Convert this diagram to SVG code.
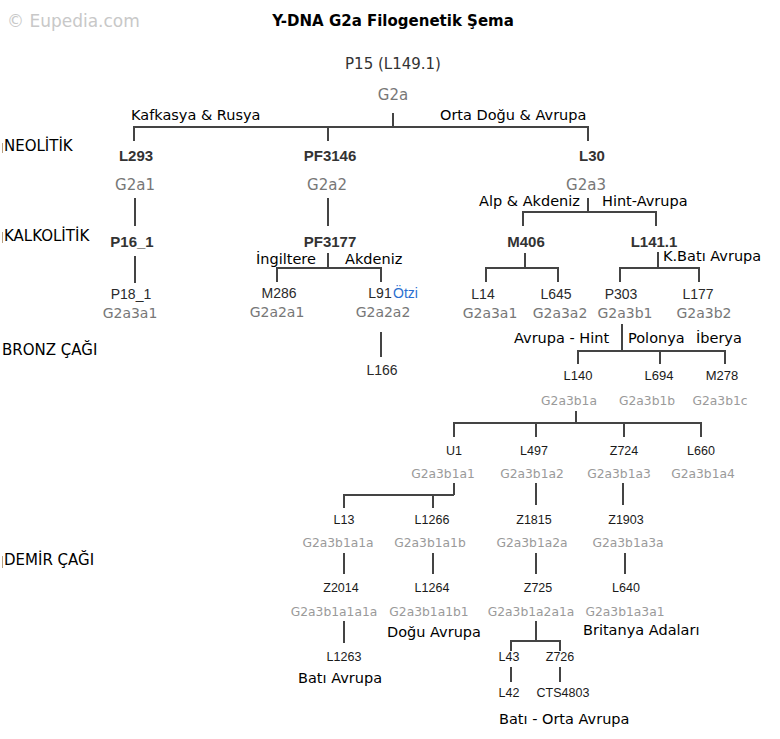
<svg xmlns="http://www.w3.org/2000/svg" width="780" height="739" viewBox="0 0 780 739">
<style>
text{font-family:"DejaVu Sans","Liberation Sans",sans-serif}
.wm{font-size:17px;fill:#c8c8c8}
.title{font-size:15px;font-weight:bold;fill:#000;text-anchor:middle}
.era{font-size:15px;fill:#000}
.reg{font-size:14.5px;fill:#000}
.root{font-size:15px;fill:#333;text-anchor:middle}
.b{font-family:"Liberation Sans",Arial,sans-serif;font-size:15px;font-weight:bold;fill:#333;text-anchor:middle}
.n{font-family:"Liberation Sans",Arial,sans-serif;font-size:14px;fill:#2a2a2a;text-anchor:middle}
.m{font-family:"Liberation Sans",Arial,sans-serif;font-size:13px;fill:#1a1a1a;text-anchor:middle}
.s{font-family:"Liberation Sans",Arial,sans-serif;font-size:12.5px;fill:#1a1a1a;text-anchor:middle}
.g15{font-size:15px;fill:#777;text-anchor:middle}
.g14{font-size:14px;fill:#777;text-anchor:middle}
.g12{font-size:12.3px;fill:#9a9a9a;text-anchor:middle}
.otz{font-family:"Liberation Sans",Arial,sans-serif;font-size:14px;fill:#2a6fd0}
.c{fill:none;stroke:#444;stroke-width:2}
.tick{stroke:#b8a080;stroke-width:1}
</style>
<rect width="780" height="739" fill="#fff"/>
<text class="wm" x="7" y="27">© Eupedia.com</text>
<text class="title" x="393" y="26">Y-DNA G2a Filogenetik Şema</text>
<g id="eras">
<line class="tick" x1="2.5" y1="143" x2="2.5" y2="153"/>
<text class="era" x="4" y="151">NEOLİTİK</text>
<line class="tick" x1="2.5" y1="232" x2="2.5" y2="243"/>
<text class="era" x="4" y="241">KALKOLİTİK</text>
<text class="era" x="2" y="355">BRONZ ÇAĞI</text>
<line class="tick" x1="2.5" y1="556" x2="2.5" y2="568"/>
<text class="era" x="4" y="565">DEMİR ÇAĞI</text>
</g>
<g id="connectors">
<path class="c" d="M393,113V127M134,141V127H588V141M328,127V141"/>
<path class="c" d="M135,198V226M328,198V226M135,256V283"/>
<path class="c" d="M328,253V268M277,282V268H381V282M381,332V357"/>
<path class="c" d="M588,198V212M523,226V212H656V226"/>
<path class="c" d="M525,253V268M486,282V268H558V282"/>
<path class="c" d="M658,252V268M620,282V268H699V282"/>
<path class="c" d="M622,324V351M578,364V351H725V364M660,351V364"/>
<path class="c" d="M576,411V423M454,437V423H701V437M536,423V437M624,423V437"/>
<path class="c" d="M454,483V495M344,508V495H454M433,495V508M536,483V505M623,483V505"/>
<path class="c" d="M344,553V574M433,553V574M536,553V574M625,553V574"/>
<path class="c" d="M344,621V643M536,621V641M511,651V641H560V651M511,667V682M560,667V682"/>
</g>
<g id="branch-labels">
<text class="reg" x="131" y="120">Kafkasya &amp; Rusya</text>
<text class="reg" x="440" y="120">Orta Doğu &amp; Avrupa</text>
<text class="reg" x="479" y="206">Alp &amp; Akdeniz</text>
<text class="reg" x="602" y="206">Hint-Avrupa</text>
<text class="reg" x="256" y="264">İngiltere</text>
<text class="reg" x="345" y="264">Akdeniz</text>
<text class="reg" x="663" y="261">K.Batı Avrupa</text>
<text class="reg" x="514" y="343">Avrupa - Hint</text>
<text class="reg" x="628" y="343">Polonya</text>
<text class="reg" x="696" y="343">İberya</text>
<text class="reg" x="387" y="637">Doğu Avrupa</text>
<text class="reg" x="583" y="635">Britanya Adaları</text>
<text class="reg" x="298" y="683">Batı Avrupa</text>
<text class="reg" x="499" y="724">Batı - Orta Avrupa</text>
</g>
<g id="P15"><text class="root" x="393" y="69">P15 (L149.1)</text><text class="g15" x="393" y="100">G2a</text></g>
<g id="L293"><text class="b" x="136" y="161">L293</text><text class="g15" x="135" y="190">G2a1</text></g>
<g id="PF3146"><text class="b" x="330" y="161">PF3146</text><text class="g15" x="327" y="190">G2a2</text></g>
<g id="L30"><text class="b" x="592" y="161">L30</text><text class="g15" x="586" y="190">G2a3</text></g>
<g id="P16_1"><text class="b" x="132" y="247">P16_1</text></g>
<g id="P18_1"><text class="n" x="131" y="299">P18_1</text><text class="g14" x="130" y="318">G2a3a1</text></g>
<g id="PF3177"><text class="b" x="330" y="247">PF3177</text></g>
<g id="M286"><text class="n" x="279" y="298">M286</text><text class="g14" x="277" y="317">G2a2a1</text></g>
<g id="L91"><text class="n" x="380" y="298">L91</text><text class="otz" x="393" y="298">Ötzi</text><text class="g14" x="383" y="317">G2a2a2</text></g>
<g id="L166"><text class="n" x="382" y="375">L166</text></g>
<g id="M406"><text class="b" x="526" y="247">M406</text></g>
<g id="L141.1"><text class="b" x="654" y="247">L141.1</text></g>
<g id="L14"><text class="n" x="483" y="299">L14</text><text class="g14" x="490" y="318">G2a3a1</text></g>
<g id="L645"><text class="n" x="556" y="299">L645</text><text class="g14" x="560" y="318">G2a3a2</text></g>
<g id="P303"><text class="n" x="621" y="299">P303</text><text class="g14" x="625" y="318">G2a3b1</text></g>
<g id="L177"><text class="n" x="698" y="299">L177</text><text class="g14" x="704" y="318">G2a3b2</text></g>
<g id="L140"><text class="m" x="578" y="380">L140</text><text class="g12" x="569" y="405">G2a3b1a</text></g>
<g id="L694"><text class="m" x="659" y="380">L694</text><text class="g12" x="647" y="405">G2a3b1b</text></g>
<g id="M278"><text class="m" x="722" y="380">M278</text><text class="g12" x="720" y="405">G2a3b1c</text></g>
<g id="U1"><text class="s" x="454" y="455">U1</text><text class="g12" x="443" y="478">G2a3b1a1</text></g>
<g id="L497"><text class="s" x="534" y="455">L497</text><text class="g12" x="532" y="478">G2a3b1a2</text></g>
<g id="Z724"><text class="s" x="624" y="455">Z724</text><text class="g12" x="619" y="478">G2a3b1a3</text></g>
<g id="L660"><text class="s" x="701" y="455">L660</text><text class="g12" x="703" y="478">G2a3b1a4</text></g>
<g id="L13"><text class="s" x="344" y="524">L13</text><text class="g12" x="338" y="547">G2a3b1a1a</text></g>
<g id="L1266"><text class="s" x="432" y="524">L1266</text><text class="g12" x="430" y="547">G2a3b1a1b</text></g>
<g id="Z1815"><text class="s" x="534" y="524">Z1815</text><text class="g12" x="532" y="547">G2a3b1a2a</text></g>
<g id="Z1903"><text class="s" x="626" y="524">Z1903</text><text class="g12" x="628" y="547">G2a3b1a3a</text></g>
<g id="Z2014"><text class="s" x="341" y="592">Z2014</text><text class="g12" x="334" y="616">G2a3b1a1a1a</text></g>
<g id="L1264"><text class="s" x="432" y="592">L1264</text><text class="g12" x="429" y="616">G2a3b1a1b1</text></g>
<g id="Z725"><text class="s" x="538" y="592">Z725</text><text class="g12" x="531" y="616">G2a3b1a2a1a</text></g>
<g id="L640"><text class="s" x="626" y="592">L640</text><text class="g12" x="625" y="616">G2a3b1a3a1</text></g>
<g id="L1263"><text class="s" x="344" y="661">L1263</text></g>
<g id="L43"><text class="s" x="509" y="661">L43</text></g>
<g id="Z726"><text class="s" x="560" y="661">Z726</text></g>
<g id="L42"><text class="s" x="509" y="697">L42</text></g>
<g id="CTS4803"><text class="s" x="563" y="697">CTS4803</text></g>
</svg>
